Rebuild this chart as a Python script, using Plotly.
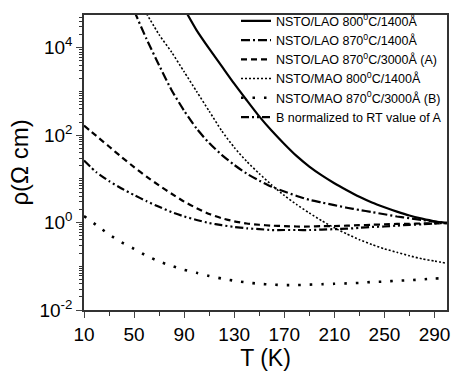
import plotly.graph_objects as go

T = [10, 20, 30, 40, 50, 60, 70, 80, 90, 100, 110, 120, 130, 140, 150, 160, 170, 180, 190, 200,
     210, 220, 230, 240, 250, 260, 270, 280, 290, 300]

T_lao800 = [90, 100, 110, 120, 130, 140, 150, 160, 170, 180, 190, 200, 210, 220, 230, 240, 250,
            260, 270, 280, 290, 300]
rho_lao800 = [79400, 25100, 9550, 3800, 1510, 631, 269, 126, 63.1, 33.1, 19.1, 12.0, 7.94, 5.50,
              3.89, 2.88, 2.24, 1.78, 1.45, 1.23, 1.07, 0.98]

T_lao870 = [50, 60, 70, 80, 90, 100, 110, 120, 130, 140, 150, 160, 170, 180, 190, 200, 210, 220,
            230, 240, 250, 260, 270, 280, 290, 300]
rho_lao870 = [70800, 15800, 3980, 1070, 363, 141, 66.1, 35.5, 20.9, 13.2, 9.12, 6.61, 5.13, 4.07,
              3.31, 2.88, 2.51, 2.19, 1.95, 1.74, 1.55, 1.38, 1.26, 1.15, 1.05, 0.98]

rho_lao870_A = [166, 95.5, 55.0, 31.6, 18.6, 11.2, 7.08, 4.57, 3.02, 2.14, 1.58, 1.26, 1.07, 0.955,
                0.891, 0.851, 0.832, 0.813, 0.813, 0.832, 0.832, 0.851, 0.871, 0.891, 0.912,
                0.933, 0.933, 0.955, 0.955, 0.977]

T_mao800 = [60, 70, 80, 90, 100, 110, 120, 130, 140, 150, 160, 170, 180, 190, 200, 210, 220, 230,
            240, 250, 260, 270, 280, 290, 300]
rho_mao800 = [60300, 20000, 7940, 2820, 1000, 355, 126, 52.5, 25.1, 13.2, 7.24, 4.17, 2.57, 1.66,
              1.10, 0.759, 0.550, 0.407, 0.316, 0.251, 0.209, 0.174, 0.148, 0.132, 0.117]

rho_mao870_B = [1.41, 0.871, 0.537, 0.355, 0.251, 0.174, 0.129, 0.102, 0.0832, 0.0708, 0.0603,
                0.0525, 0.0468, 0.0427, 0.0398, 0.0380, 0.0372, 0.0372, 0.0380, 0.0389, 0.0398,
                0.0407, 0.0417, 0.0437, 0.0447, 0.0468, 0.0479, 0.0501, 0.0525, 0.0537]

rho_B_norm = [26.3, 14.1, 8.91, 6.03, 4.27, 3.09, 2.29, 1.74, 1.38, 1.15, 0.977, 0.871, 0.794,
              0.741, 0.708, 0.676, 0.676, 0.676, 0.676, 0.692, 0.708, 0.724, 0.759, 0.794, 0.813,
              0.851, 0.891, 0.912, 0.955, 0.977]

names = ["NSTO/LAO 800<sup>0</sup>C/1400Å",
         "NSTO/LAO 870<sup>0</sup>C/1400Å",
         "NSTO/LAO 870<sup>0</sup>C/3000Å (A)",
         "NSTO/MAO 800<sup>0</sup>C/1400Å",
         "NSTO/MAO 870<sup>0</sup>C/3000Å (B)",
         "B normalized to RT value of A"]

x_ticks = [10, 50, 90, 130, 170, 210, 250, 290]
y_tickvals = [1e-2, 1e0, 1e2, 1e4]
y_ticktext = ["10<sup>-2</sup>", "10<sup>0</sup>", "10<sup>2</sup>", "10<sup>4</sup>"]

FONT = "Arial, Liberation Sans, Helvetica, sans-serif"

fig = go.Figure()
series = [
    (T_lao800, rho_lao800, dict(color="black", width=2.2, dash="solid")),
    (T_lao870, rho_lao870, dict(color="black", width=2.2, dash="9px,3px,2px,3px")),
    (T, rho_lao870_A, dict(color="black", width=2.2, dash="6px,4px")),
    (T_mao800, rho_mao800, dict(color="black", width=1.6, dash="2px,2px")),
    (T, rho_mao870_B, dict(color="black", width=2.6, dash="2.5px,9px")),
    (T, rho_B_norm, dict(color="black", width=2.2, dash="8px,3px,2px,3px,2px,3px")),
]
for (xs, ys, ln), nm in zip(series, names):
    fig.add_trace(go.Scatter(x=xs, y=ys, mode="lines", name=nm,
                             line=dict(shape="spline", smoothing=0.6, **ln)))

minor_y = []
for e in range(-2, 5):
    for m in range(1, 10):
        v = m * 10 ** e
        if v not in y_tickvals:
            minor_y.append(v)

fig.update_layout(
    width=454, height=371,
    margin=dict(l=84, r=4, t=15, b=61),
    paper_bgcolor="white", plot_bgcolor="white",
    font=dict(family=FONT, color="black"),
    showlegend=True,
    legend=dict(x=1.0, y=1.03, xanchor="right", yanchor="top",
                bgcolor="rgba(0,0,0,0)", borderwidth=0,
                font=dict(size=12.5, family=FONT), tracegroupgap=0,
                itemwidth=30),
    xaxis=dict(range=[10, 300], tickvals=x_ticks, ticks="outside", ticklen=6, tickwidth=1,
               showline=True, linecolor="#333", linewidth=1.5, mirror=True, showgrid=False,
               zeroline=False, tickfont=dict(size=19),
               minor=dict(tickvals=[30, 70, 110, 150, 190, 230, 270], ticks="outside",
                          ticklen=4, tickcolor="#333", showgrid=False),
               title=dict(text="T (K)", font=dict(size=23), standoff=2)),
    yaxis=dict(type="log", range=[-2, 4.75], tickvals=y_tickvals, ticktext=y_ticktext,
               ticks="outside", ticklen=6, tickwidth=1,
               showline=True, linecolor="#333", linewidth=1.5, mirror=True, showgrid=False,
               zeroline=False, tickfont=dict(size=19),
               minor=dict(tickvals=minor_y, ticks="outside", ticklen=3, tickcolor="#333",
                          showgrid=False),
               title=dict(text="ρ(Ω cm)", font=dict(size=24), standoff=4)),
)

fig.write_html("out.html", config={"displayModeBar": False},
               post_script="document.body.style.margin='0px';document.body.style.overflow='hidden';")
